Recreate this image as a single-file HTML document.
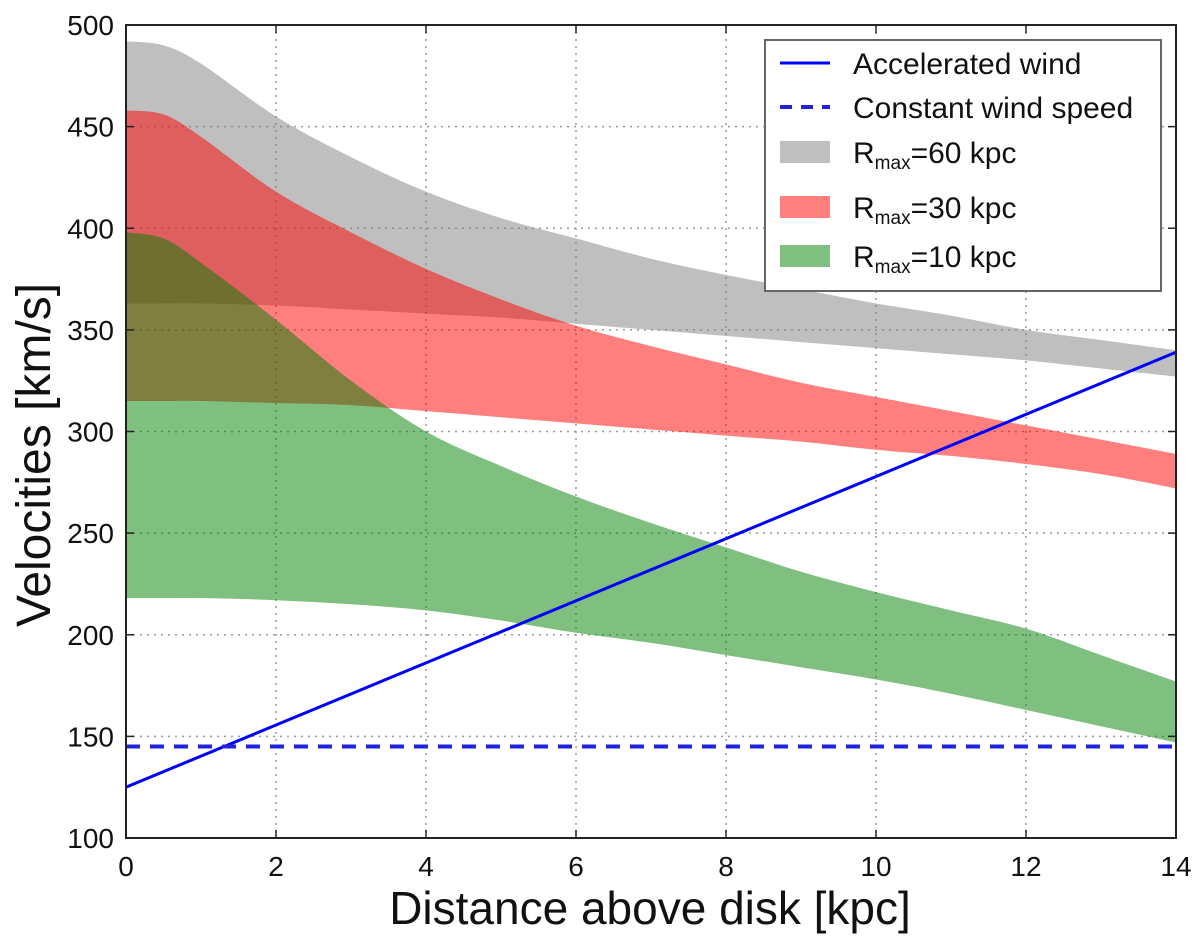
<!DOCTYPE html>
<html><head><meta charset="utf-8"><style>
body{margin:0;background:#fff;}
svg text{font-family:"Liberation Sans","DejaVu Sans",sans-serif;fill:#111;}
</style></head><body>
<svg id="chart" width="1200" height="937" xmlns="http://www.w3.org/2000/svg"></svg>
<script>
const xs=[0,0.5,1,2,3,4,5,6,7,8,9,10,11,12,13,14];
const grayUpper=[492,490,481,455,435,418,405,395,385,377,370,363,357,350,345,340];
const grayLower=[363,363,363,362,360,358,356,353,350,347,344,341,338,335,331,327];
const redUpper=[458,456,445,418,398,380,365,352,342,333,324,317,310,303,296,289];
const redLower=[315,315,315,314,313,310,307,304,301,298,295,291,288,284,279,272];
const greenUpper=[398,395,383,355,325,300,283,268,255,243,231,221,212,203,190,177];
const greenLower=[218,218,218,217,215,212,207,201,196,190,184,178,171,163,155,147];
const accelX=[0,14];
const accelY=[125,339];
const constY=[145,145];
const xTicks=[0,2,4,6,8,10,12,14];
const yTicks=[100,150,200,250,300,350,400,450,500];

const L=126,R=1176,T=25,B=838;
const sx=v=>L+(v/14)*(R-L);
const sy=v=>B-(v-100)/400*(B-T);
const svg=document.getElementById('chart');
const NS='http://www.w3.org/2000/svg';
function mk(tag,attrs,parent){const e=document.createElementNS(NS,tag);for(const k in attrs)e.setAttribute(k,attrs[k]);(parent||svg).appendChild(e);return e;}

xTicks.forEach(t=>{if(t>0&&t<14){const g=mk('line',{x1:sx(t),x2:sx(t),y1:T,y2:B,stroke:'#999','stroke-dasharray':'2,5','stroke-width':1.5});

}});
yTicks.forEach(t=>{if(t>100&&t<500){const g=mk('line',{x1:L,x2:R,y1:sy(t),y2:sy(t),stroke:'#999','stroke-dasharray':'2,5','stroke-width':1.5});

}});

function smooth(pts){
  let d='';
  for(let i=0;i<pts.length-1;i++){
    const p0=pts[Math.max(0,i-1)],p1=pts[i],p2=pts[i+1],p3=pts[Math.min(pts.length-1,i+2)];
    const c1=[p1[0]+(p2[0]-p0[0])/6,p1[1]+(p2[1]-p0[1])/6];
    const c2=[p2[0]-(p3[0]-p1[0])/6,p2[1]-(p3[1]-p1[1])/6];
    d+='C'+c1+' '+c2+' '+p2;
  }
  return d;
}
function band(up,lo,color,name){
  const u=xs.map((x,i)=>[sx(x),sy(up[i])]);
  const l=xs.map((x,i)=>[sx(x),sy(lo[i])]).reverse();
  const d='M'+u[0]+smooth(u)+'L'+l[0]+smooth(l)+'Z';
  const p=mk('path',{d:d,fill:color,'fill-opacity':0.5});
  
  
}
band(grayUpper,grayLower,'#808080','band-rmax-60');
band(redUpper,redLower,'#ff0000','band-rmax-30');
band(greenUpper,greenLower,'#008000','band-rmax-10');

const a=mk('line',{x1:sx(accelX[0]),y1:sy(accelY[0]),x2:sx(accelX[1]),y2:sy(accelY[1]),stroke:'#0000ff','stroke-width':3});


const c=mk('line',{x1:sx(accelX[0]),y1:sy(constY[0]),x2:sx(accelX[1]),y2:sy(constY[1]),stroke:'#2222dd','stroke-width':4,'stroke-dasharray':'14,10'});



const f=mk('rect',{x:L,y:T,width:R-L,height:B-T,fill:'none',stroke:'#222','stroke-width':2});



xTicks.forEach(t=>{const e=mk('text',{x:sx(t),y:876,'font-size':28,'text-anchor':'middle'});e.textContent=t;


mk('line',{x1:sx(t),x2:sx(t),y1:B,y2:B-8,stroke:'#222','stroke-width':1.5});
mk('line',{x1:sx(t),x2:sx(t),y1:T,y2:T+8,stroke:'#222','stroke-width':1.5});});
yTicks.forEach(t=>{const e=mk('text',{x:114,y:sy(t)+10,'font-size':28,'text-anchor':'end'});e.textContent=t;


mk('line',{x1:L,x2:L+8,y1:sy(t),y2:sy(t),stroke:'#222','stroke-width':1.5});
mk('line',{x1:R,x2:R-8,y1:sy(t),y2:sy(t),stroke:'#222','stroke-width':1.5});});

const xl=mk('text',{x:650,y:924,'font-size':46,'text-anchor':'middle'});xl.textContent='Distance above disk [kpc]';


const yl=mk('text',{x:50,y:455,'font-size':48,'text-anchor':'middle',transform:'rotate(-90 50 455)'});yl.textContent='Velocities [km/s]';


</script>
<svg style="position:absolute;left:0;top:0" width="1200" height="937">
<rect x="765" y="40" width="396" height="251" fill="#fff" stroke="#666" stroke-width="2"/>
<g><line x1="780" y1="63" x2="830" y2="63" stroke="#0000ff" stroke-width="3"/><text x="853" y="74" font-size="30" font-family="Liberation Sans,sans-serif" fill="#111">Accelerated wind</text></g>
<g><line x1="780" y1="107" x2="830" y2="107" stroke="#2222dd" stroke-width="4" stroke-dasharray="12,9"/><text x="853" y="118" font-size="30" font-family="Liberation Sans,sans-serif" fill="#111">Constant wind speed</text></g>
<g><rect x="780" y="141" width="50" height="22" fill="#bfbfbf"/><text x="853" y="163" font-size="30" font-family="Liberation Sans,sans-serif" fill="#111">R<tspan font-size="19" dy="6">max</tspan><tspan dy="-6">=60 kpc</tspan></text></g>
<g><rect x="780" y="196" width="50" height="22" fill="#ff7f7f"/><text x="853" y="218" font-size="30" font-family="Liberation Sans,sans-serif" fill="#111">R<tspan font-size="19" dy="6">max</tspan><tspan dy="-6">=30 kpc</tspan></text></g>
<g><rect x="780" y="245" width="50" height="22" fill="#7fbf7f"/><text x="853" y="267" font-size="30" font-family="Liberation Sans,sans-serif" fill="#111">R<tspan font-size="19" dy="6">max</tspan><tspan dy="-6">=10 kpc</tspan></text></g>
</svg>
</body></html>
